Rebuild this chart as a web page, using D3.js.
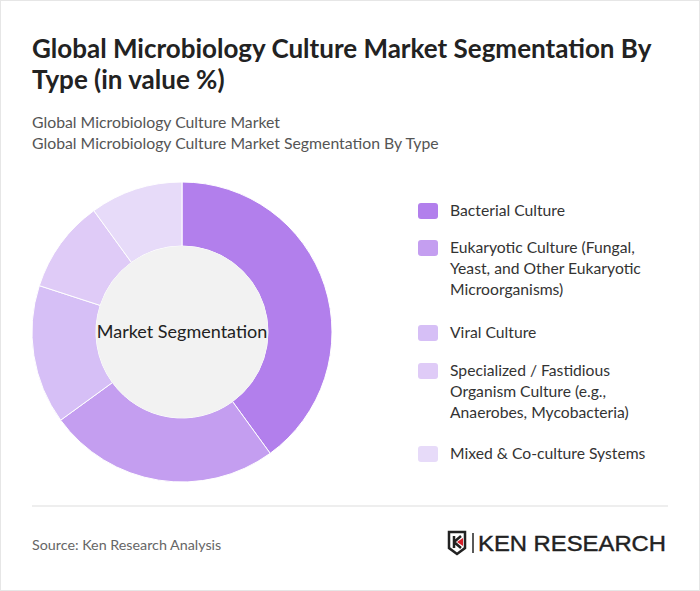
<!DOCTYPE html>
<html><head><meta charset="utf-8">
<script src="https://cdn.jsdelivr.net/npm/d3@7"></script>
<style>body{margin:0;background:#fff;font-family:Lato,"Open Sans",sans-serif}</style>
</head><body><svg id="c" width="700" height="591"></svg>
<script>
const categories=["Bacterial Culture","Eukaryotic Culture (Fungal, Yeast, and Other Eukaryotic Microorganisms)","Viral Culture","Specialized / Fastidious Organism Culture (e.g., Anaerobes, Mycobacteria)","Mixed & Co-culture Systems"];
const legendLines=[["Bacterial Culture"],["Eukaryotic Culture (Fungal,","Yeast, and Other Eukaryotic","Microorganisms)"],["Viral Culture"],["Specialized / Fastidious","Organism Culture (e.g.,","Anaerobes, Mycobacteria)"],["Mixed & Co-culture Systems"]];
const values=[40,25,15,10,10];
const colors=["#b27fec","#c49ef0","#d6bff6","#dfcbf7","#e7dbf9"];
const svg=d3.select("#c");
svg.append("rect").attr("x",0.5).attr("y",0.5).attr("width",699).attr("height",590).attr("fill","#fff").attr("stroke","#e6e6e6");
svg.append("text").attr("x",32).attr("y",58).attr("font-size",26).attr("font-weight",700).attr("fill","#222").text("Global Microbiology Culture Market Segmentation By");
svg.append("text").attr("x",32).attr("y",89).attr("font-size",26).attr("font-weight",700).attr("fill","#222").text("Type (in value %)");
svg.append("text").attr("x",32).attr("y",128).attr("font-size",15.8).attr("fill","#555").text("Global Microbiology Culture Market");
svg.append("text").attr("x",32).attr("y",149).attr("font-size",15.8).attr("fill","#555").text("Global Microbiology Culture Market Segmentation By Type");
const g=svg.append("g").attr("transform","translate(182,332)");
const pie=d3.pie().sort(null)(values);
const arc=d3.arc().innerRadius(86).outerRadius(150);
g.selectAll("path").data(pie).join("path").attr("d",arc).attr("fill",(d,i)=>colors[i]).attr("stroke","#fff").attr("stroke-width",1);
g.append("circle").attr("r",86).attr("fill","#f2f2f2");
g.append("text").attr("text-anchor","middle").attr("dy",6).attr("font-size",18).attr("fill","#222").text("Market Segmentation");
const ys=[211,248,333,371,454];
categories.forEach((c,i)=>{
  svg.append("rect").attr("x",418).attr("y",ys[i]-8).attr("width",20).attr("height",16).attr("rx",3).attr("fill",colors[i]);
  legendLines[i].forEach((l,j)=>svg.append("text").attr("x",450).attr("y",ys[i]+5+j*21).attr("font-size",15.7).attr("fill","#333").text(l));
});
svg.append("line").attr("x1",32).attr("x2",668).attr("y1",506).attr("y2",506).attr("stroke","#ddd");
svg.append("text").attr("x",32).attr("y",550).attr("font-size",14.3).attr("fill","#666").text("Source: Ken Research Analysis");
const lg=svg.append("g").attr("transform","translate(448,531)");
lg.append("path").attr("d","M1,1 H17 V17 L9,23 L1,17 Z").attr("fill","none").attr("stroke","#222").attr("stroke-width",2.5);
lg.append("path").attr("d","M6,5 V17 M6,11 L13,5 M6,11 L13,17").attr("stroke","#222").attr("stroke-width",2.5).attr("fill","none");
lg.append("path").attr("d","M9,11 L15,7 L15,15 Z").attr("fill","#d6202a");
lg.append("line").attr("x1",25).attr("x2",25).attr("y1",2).attr("y2",22).attr("stroke","#222").attr("stroke-width",1.5);
lg.append("text").attr("x",30).attr("y",20).attr("font-size",22).attr("font-family","Liberation Sans, Arial").attr("fill","#222").attr("stroke","#222").attr("stroke-width",0.4).attr("textLength",188).attr("lengthAdjust","spacingAndGlyphs").text("KEN RESEARCH");
</script></body></html>
